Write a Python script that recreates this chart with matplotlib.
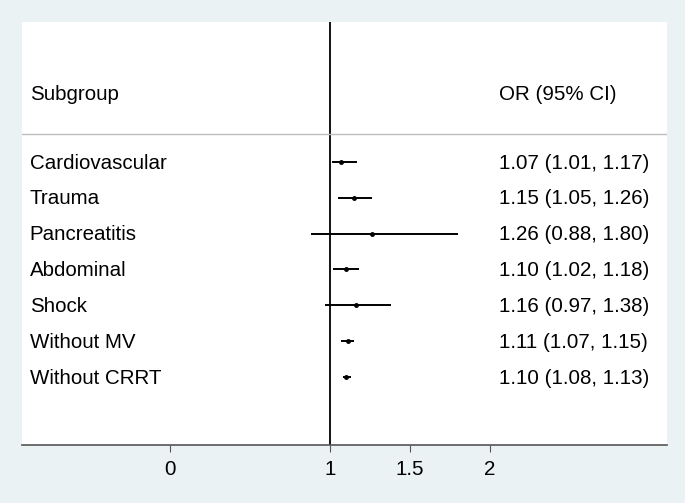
import matplotlib.pyplot as plt

# subgroup forest plot data
subgroups = ["Cardiovascular", "Trauma", "Pancreatitis", "Abdominal", "Shock",
             "Without MV", "Without CRRT"]
odds = [1.07, 1.15, 1.26, 1.10, 1.16, 1.11, 1.10]
lower = [1.01, 1.05, 0.88, 1.02, 0.97, 1.07, 1.08]
upper = [1.17, 1.26, 1.80, 1.18, 1.38, 1.15, 1.13]
xticks = [0, 1, 1.5, 2]
xticklabels = ["0", "1", "1.5", "2"]

plt.rcParams['font.family'] = ['Liberation Sans', 'DejaVu Sans']

fig = plt.figure(figsize=(6.85, 5.03), dpi=100)
fig.patch.set_facecolor('#EAF2F3')
ax = fig.add_axes([22 / 685, 1 - 445 / 503, 645 / 685, 423 / 503])
ax.set_facecolor('white')

rows = list(range(len(subgroups)))
ax.hlines(rows, lower, upper, color='black', lw=1.4)
ax.plot(odds, rows, 'o', color='black', ms=2.5)
ax.axvline(1, color='black', lw=1.3)
ax.axhline(-0.78, color='#BDBDBD', lw=1)

ax.set_xlim(-0.925, 3.106)
ax.set_ylim(7.9, -3.91)

fs = 14.8
tf = ax.get_yaxis_transform()
ax.text(0.012, -1.88, "Subgroup", transform=tf, fontsize=fs, va='center')
ax.text(0.74, -1.88, "OR (95% CI)", transform=tf, fontsize=fs, va='center')
for i, name in enumerate(subgroups):
    ax.text(0.012, i + 0.03, name, transform=tf, fontsize=fs, va='center')
    ax.text(0.74, i + 0.03, f"{odds[i]:.2f} ({lower[i]:.2f}, {upper[i]:.2f})",
            transform=tf, fontsize=fs, va='center')

for s in ['top', 'left', 'right']:
    ax.spines[s].set_visible(False)
ax.spines['bottom'].set_color('#555555')
ax.spines['bottom'].set_linewidth(1.2)
ax.set_yticks([])
ax.set_xticks(xticks)
ax.set_xticklabels(xticklabels, fontsize=fs)
ax.tick_params(axis='x', length=5, color='#555555', pad=6)

fig.savefig("out.png", dpi=100, facecolor=fig.get_facecolor())
